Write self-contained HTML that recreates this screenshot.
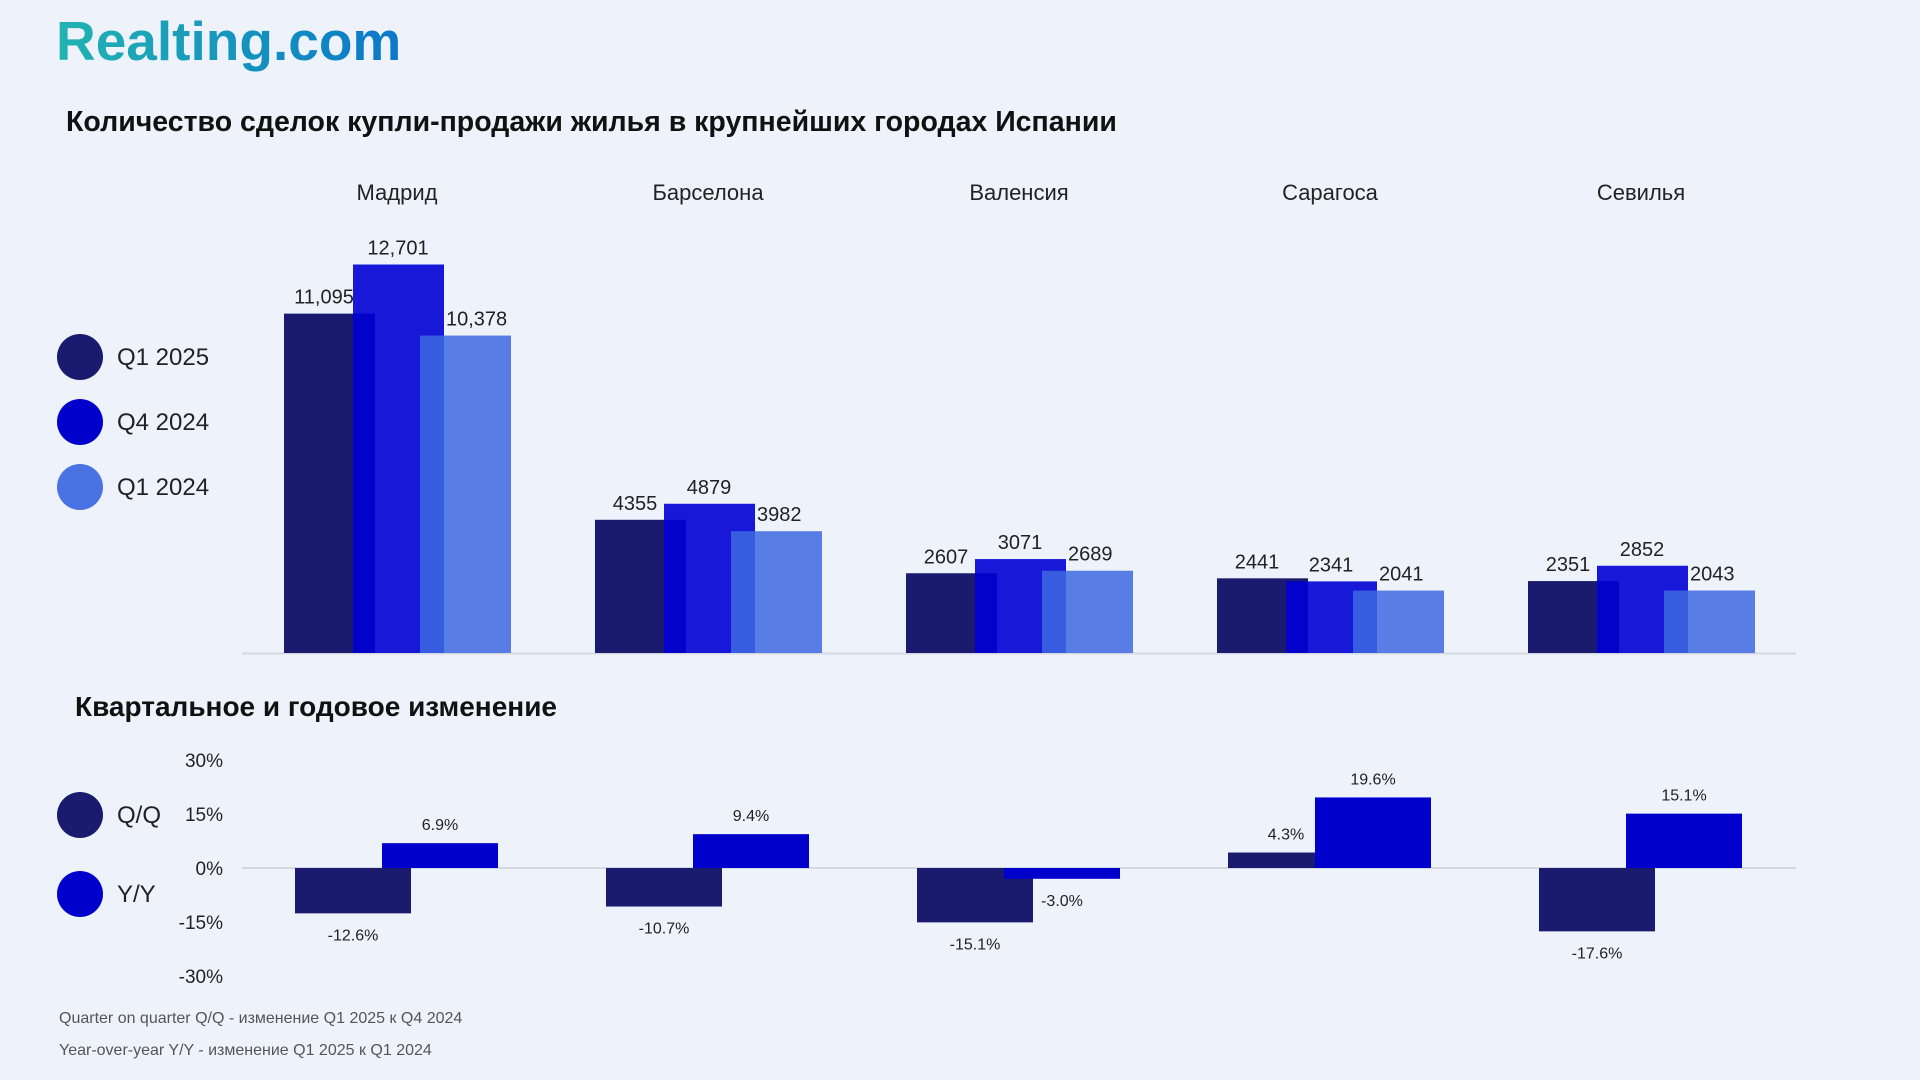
<!DOCTYPE html>
<html><head><meta charset="utf-8">
<style>
body{margin:0;width:1920px;height:1080px;background:#eef3fb;overflow:hidden;font-family:"Liberation Sans","DejaVu Sans",sans-serif;}
svg{position:absolute;left:0;top:0}
</style></head>
<body>
<svg id="chart" width="1920" height="1080">
<defs><linearGradient id="lg" x1="0" x2="1"><stop offset="0" stop-color="#22b3b3"/><stop offset="1" stop-color="#0a78c8"/></linearGradient></defs>
<text x="56" y="60" font-size="55" font-weight="bold" fill="url(#lg)">Realting.com</text>
<text x="66" y="131" font-size="28.5" font-weight="bold" fill="#111">Количество сделок купли-продажи жилья в крупнейших городах Испании</text>
<text x="75" y="716" font-size="28" font-weight="bold" fill="#111">Квартальное и годовое изменение</text>
<text x="59" y="1023" font-size="16" fill="#555">Quarter on quarter Q/Q  - изменение Q1 2025 к Q4 2024</text>
<text x="59" y="1055" font-size="16" fill="#555">Year-over-year Y/Y - изменение Q1 2025 к Q1 2024</text>
</svg>
<script>
const cities=["Мадрид","Барселона","Валенсия","Сарагоса","Севилья"];
const q1_2025=[11095,4355,2607,2441,2351];
const q4_2024=[12701,4879,3071,2341,2852];
const q1_2024=[10378,3982,2689,2041,2043];
const labels1=["11,095","4355","2607","2441","2351"];
const labels2=["12,701","4879","3071","2341","2852"];
const labels3=["10,378","3982","2689","2041","2043"];
const qq=[-12.6,-10.7,-15.1,4.3,-17.6];
const yy=[6.9,9.4,-3.0,19.6,15.1];
const pctTicks=[30,15,0,-15,-30];

const svg=document.getElementById('chart');
const NS='http://www.w3.org/2000/svg';
function mk(tag,attrs,parent){const e=document.createElementNS(NS,tag);for(const k in attrs)e.setAttribute(k,attrs[k]);(parent||svg).appendChild(e);return e;}
const base=653, k=(653-264.5)/12701;
const yMain=v=>base-v*k;
const gx=i=>284+i*311;
const zero=868, pk=3.6;
const yPct=v=>zero-v*pk;

let ax=mk('line',{x1:242,x2:1796,y1:653.5,y2:653.5,stroke:'#d4d8e0','stroke-width':2});



const series=[{d:q1_2025,l:labels1,c:'#1a1a6e',o:1,dx:0,lx:40,a:'middle',n:'q1-2025'},{d:q4_2024,l:labels2,c:'#0000d4',o:0.9,dx:69,lx:45,a:'middle',n:'q4-2024'},{d:q1_2024,l:labels3,c:'#3d68e0',o:0.85,dx:136,lx:26,a:'start',n:'q1-2024'}];
cities.forEach((c,i)=>{
  const t=mk('text',{x:gx(i)+113,y:200,'font-size':22,fill:'#222','text-anchor':'middle'});
  t.textContent=c;
  
  
  series.forEach(s=>{
    const y=yMain(s.d[i]);
    const r=mk('rect',{x:gx(i)+s.dx,y:y,width:91,height:base-y,fill:s.c,'fill-opacity':s.o});
    
    
    const lt=mk('text',{x:gx(i)+s.dx+s.lx,y:y-10,'font-size':20,fill:'#222','text-anchor':s.a});
    lt.textContent=s.l[i];
    
    
  });
});

const leg=[['Q1 2025','#1a1a6e',357],['Q4 2024','#0000cc',422],['Q1 2024','#4a72e2',487],['Q/Q','#1a1a6e',815],['Y/Y','#0000cc',894]];
leg.forEach(l=>{
  const c=mk('circle',{cx:80,cy:l[2],r:23,fill:l[1]});
  
  
  const t=mk('text',{x:117,y:l[2]+8,'font-size':24,fill:'#222'});
  t.textContent=l[0];
  
  
});

pctTicks.forEach(v=>{
  const t=mk('text',{x:223,y:yPct(v)+7,'font-size':19,fill:'#222','text-anchor':'end'});
  t.textContent=v+'%';
  
  
});
let zl=mk('line',{x1:242,x2:1796,y1:zero,y2:zero,stroke:'#d4d8e0','stroke-width':2});


const ps=[{d:qq,c:'#1a1a6e',dx:11,n:'qq'},{d:yy,c:'#0000cc',dx:98,n:'yy'}];
cities.forEach((c,i)=>{
  ps.forEach(s=>{
    const v=s.d[i], y=yPct(v);
    const x=gx(i)+s.dx;
    const r=mk('rect',{x:x,y:Math.min(y,zero),width:116,height:Math.abs(zero-y),fill:s.c});
    
    
    const t=mk('text',{x:x+58,y:v>=0?y-13:y+27,'font-size':16,fill:'#222','text-anchor':'middle'});
    t.textContent=v.toFixed(1)+'%';
    
    
  });
});
</script>
</body></html>
